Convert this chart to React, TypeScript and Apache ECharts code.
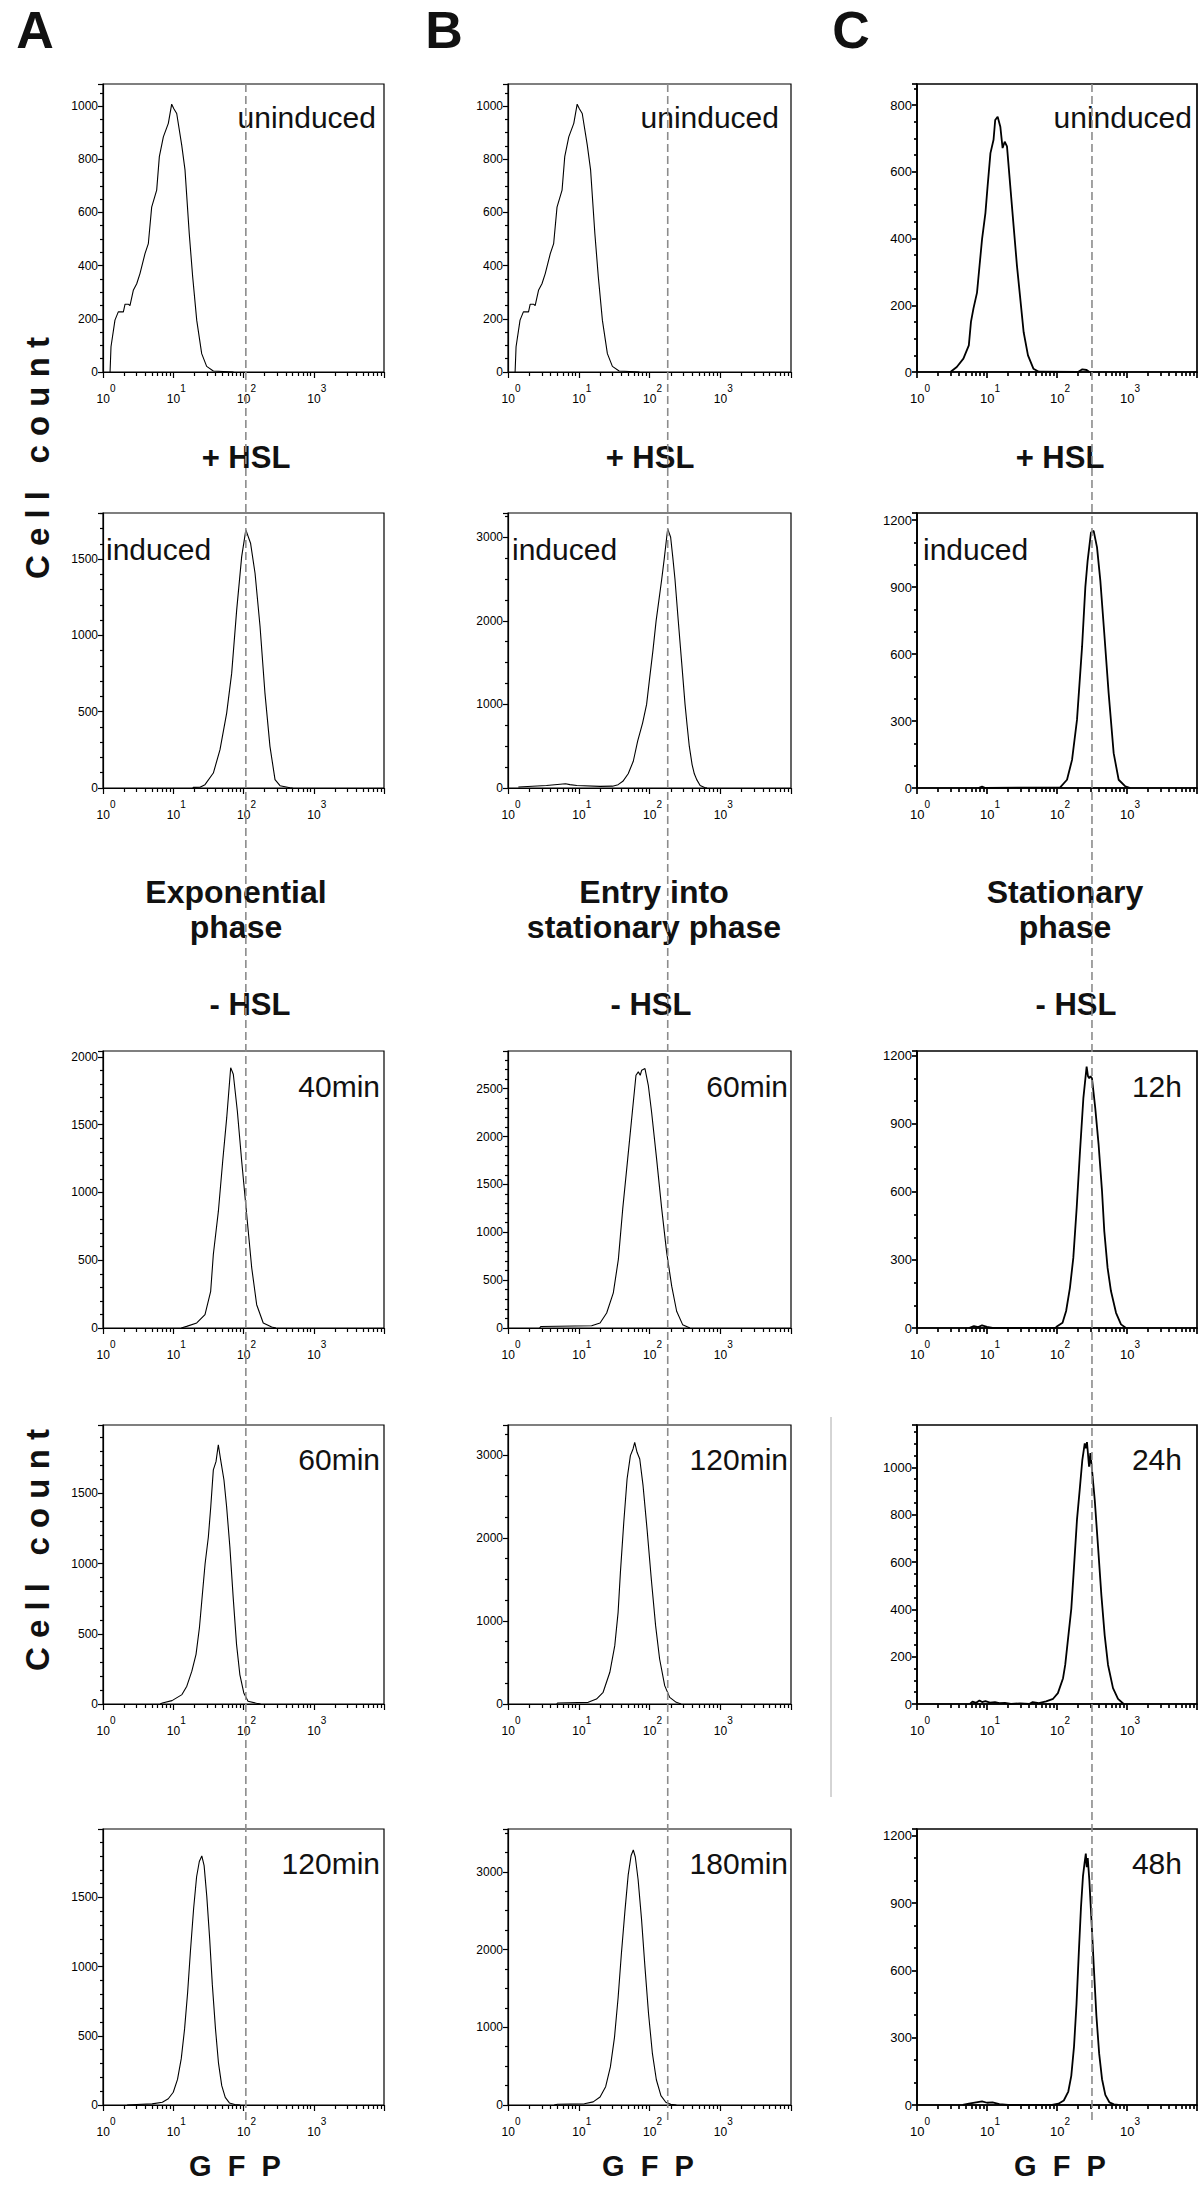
import React, { useEffect, useRef } from "react";
import * as echarts from "echarts";

const FONT = '"Liberation Sans", Arial, Helvetica, sans-serif';

// ---------- histogram data: [GFP fluorescence, cell count] ----------
const uninducedAB = [[1.26,0],[1.3,95],[1.48,195],[1.65,226],[1.95,226],[2.06,255],[2.29,255],[2.42,250],[2.7,307],[3.02,332],[3.36,370],[3.96,445],[4.42,483],[4.93,620],[5.81,684],[6.34,810],[7.23,884],[8.51,935],[9.5,1007],[10.2,990],[11.2,972],[13.2,853],[14.7,760],[16.9,520],[18.9,358],[21.6,194],[25.4,69],[29.9,21],[37.2,4],[72,0]];
const uninducedC = [[3.0,0],[3.7,15],[4.6,40],[5.5,80],[5.9,150],[6.4,190],[7.2,238],[7.9,328],[8.5,398],[9.5,477],[10.2,557],[11.2,656],[12.4,696],[13.1,755],[14.2,765],[15.5,735],[16.7,671],[17.9,690],[19.3,676],[21.5,557],[24,437],[26.8,318],[29.9,219],[33.4,119],[38.5,50],[46,10],[55,1],[200,0],[230,8],[265,6],[290,0]];
const inducedA = [[19,0],[19.3,4],[24,5],[28.3,22],[37.2,98],[46.3,251],[57.6,491],[67.9,753],[80,1168],[94.2,1517],[108,1692],[126,1605],[146,1408],[172,1059],[202,622],[238,273],[281,55],[331,15],[459,2],[500,0]];
const inducedB = [[1.4,12],[3.5,30],[6.5,50],[7.5,40],[9.4,30],[20,20],[30,22],[36,40],[42,80],[50,170],[59,320],[68,560],[80,780],[91,1000],[100,1300],[112,1650],[124,2000],[136,2250],[149,2500],[162,2750],[175,3000],[181,3100],[190,3050],[199,3000],[214,2750],[229,2500],[255,2000],[285,1500],[318,1000],[340,750],[365,500],[400,280],[430,170],[465,100],[520,30],[600,5],[650,0]];
const inducedC = [[7.5,0],[8.5,6],[9.5,0],[111,3],[139,37],[164,126],[193,305],[228,632],[254,900],[274,1019],[306,1145],[334,1152],[373,1078],[416,929],[474,691],[547,424],[645,156],[760,37],[946,7],[1116,0]];
const exp40 = [[13,0],[15.5,12],[21.6,37],[28.3,99],[34.1,271],[37.2,542],[43.9,862],[50.6,1232],[57.7,1552],[65.7,1921],[71.6,1872],[81.7,1601],[94.2,1232],[111,837],[131,443],[154,172],[191,37],[252,7],[290,0]];
const entry60 = [[2.8,0],[2.9,15],[15.2,24],[20,52],[24.8,157],[30.8,367],[36.3,717],[41.8,1241],[49.2,1766],[57.2,2256],[64.4,2640],[69.5,2675],[74,2640],[77.6,2693],[86.3,2710],[96.2,2535],[107,2256],[126,1766],[149,1241],[175,787],[206,437],[242,175],[294,35],[373,0]];
const stat12 = [[5.5,0],[6.5,8],[7.5,4],[8.5,12],[10,5],[12,0],[95,0],[102,9],[120,23],[135,75],[153,177],[171,309],[191,529],[213,778],[238,1013],[265,1152],[277,1110],[289,1101],[300,1110],[316,1101],[352,969],[393,808],[440,602],[474,426],[528,265],[590,163],[697,67],[821,16],[968,0]];
const exp60 = [[6.5,0],[7,7],[9.6,24],[13.3,67],[15.6,127],[18.4,234],[21.1,354],[23.6,545],[25.5,736],[28.4,999],[31.6,1190],[34.2,1405],[37.2,1668],[40.6,1727],[43.8,1847],[47.3,1739],[52.7,1596],[57.5,1405],[64,1118],[71.3,760],[79.6,425],[88.7,210],[101,79],[116,19],[153,5],[175,0]];
const entry120 = [[4.9,0],[5,12],[13.6,20],[17.8,60],[22.1,141],[27.5,382],[32.3,703],[36,1104],[38.8,1586],[43.3,2189],[48.2,2711],[53.7,2992],[58.5,3072],[61.8,3153],[66.7,3032],[72.8,2952],[81.1,2630],[92.3,2108],[106,1506],[122,944],[139,542],[164,221],[193,80],[239,20],[280,0]];
const stat24 = [[5.7,0],[6.2,10],[7,5],[7.8,15],[8.5,8],[9.5,12],[11,6],[13,8],[15,4],[18,5],[22,0],[30,3],[40,0],[45,8],[55,4],[70,11],[88,22],[103,46],[122,109],[131,165],[144,277],[160,402],[173,556],[193,779],[211,905],[230,1031],[249,1101],[258,1080],[268,1107],[287,1003],[300,1060],[310,1017],[346,863],[385,668],[431,458],[480,290],[536,165],[631,67],[744,22],[897,0]];
const exp120 = [[2.2,0],[3,4],[5,8],[7,20],[8.5,45],[10,92],[11.5,185],[13,335],[14.5,550],[16,810],[17.5,1100],[19.5,1420],[21.5,1650],[23.5,1760],[25.5,1800],[27.5,1730],[30,1510],[33,1200],[36,870],[40,545],[44,305],[49,140],[55,55],[63,15],[75,3],[90,0]];
const entry180 = [[4.5,0],[5,10],[12,15],[16,40],[20,102],[24,235],[28,490],[32,870],[36,1380],[40,1940],[45,2500],[50,2960],[55,3210],[59,3280],[63,3190],[69,2900],[77,2400],[86,1790],[97,1170],[110,660],[125,325],[145,120],[170,35],[200,8],[240,0]];
const stat48 = [[4.5,0],[5.5,6],[7,12],[8.5,16],[10,10],[12,12],[15,4],[20,0],[85,0],[105,6],[125,20],[145,60],[160,130],[175,260],[190,450],[205,680],[220,880],[235,1020],[248,1080],[258,1120],[266,1060],[275,1100],[290,1000],[310,830],[335,620],[365,400],[400,230],[440,115],[490,45],[560,12],[650,3],[750,0]];

// panels in reading order (rows of A, B, C)
const histograms = [uninducedAB, uninducedAB, uninducedC, inducedA, inducedB, inducedC, exp40, entry60, stat12, exp60, entry120, stat24, exp120, entry180, stat48];
const panelLabels = ["uninduced", "uninduced", "uninduced", "induced", "induced", "induced", "40min", "60min", "12h", "60min", "120min", "24h", "120min", "180min", "48h"];
const yMaxes = [1083, 1083, 863, 1803, 3290, 1232, 2044, 2893, 1221, 1988, 3361, 1179, 1995, 3550, 1230];
const yIntervals = [200, 200, 200, 500, 1000, 300, 500, 500, 300, 500, 1000, 200, 500, 1000, 300];
const yMinorSplits = [4, 4, 4, 5, 4, 3, 5, 5, 3, 5, 4, 4, 5, 4, 3];
const xMin = 1;
const xMax = 10000;
const cutoffs = [108, 181, 316]; // dashed reference (GFP) per column

const columnLetters = ["A", "B", "C"];
const columnHeadings = ["Exponential\nphase", "Entry into\nstationary phase", "Stationary\nphase"];
const plusLabel = "+ HSL";
const minusLabel = "- HSL";
const yTitle = "C e l l   c o u n t";
const xTitle = "G  F  P";

// ---------- layout ----------
const colLeft = [103, 508, 917];
const colWidth = [281, 283, 281];
const rowTop = [84, 513, 1051, 1425, 1829];
const rowHeight = [288, 275, 277, 279, 276];

export default function App() {
  const ref = useRef<HTMLDivElement>(null);

  useEffect(() => {
    const chart = echarts.init(ref.current!, null, { renderer: "svg" });
    const grids: any[] = [];
    const xAxes: any[] = [];
    const yAxes: any[] = [];
    const series: any[] = [];

    for (let i = 0; i < 15; i++) {
      const r = Math.floor(i / 3);
      const c = i % 3;
      const isC = c === 2;
      const lw = isC ? 1.7 : 1.2;
      const iv = yIntervals[i];
      const lineStyle = { color: "#000", width: lw };
      grids.push({
        left: colLeft[c],
        top: rowTop[r],
        width: colWidth[c],
        height: rowHeight[r],
        show: true,
        borderColor: "#000",
        borderWidth: lw,
        backgroundColor: "transparent",
      });
      xAxes.push({
        type: "log",
        logBase: 10,
        min: xMin,
        max: xMax,
        gridIndex: i,
        axisLine: { show: true, onZero: false, lineStyle },
        axisTick: { show: true, length: 6, lineStyle },
        minorTick: { show: true, splitNumber: 9, length: 4, lineStyle: { color: "#000", width: lw } },
        splitLine: { show: false },
        minorSplitLine: { show: false },
        axisLabel: {
          margin: 11,
          formatter: (v: number) => {
            const e = Math.round(Math.log10(v));
            if (e >= 4) return "";
            return "{a|10}{b|" + e + "}";
          },
          rich: {
            a: { fontSize: isC ? 13 : 12, lineHeight: 22, verticalAlign: "bottom", fontFamily: FONT, color: "#000", padding: [0, 0, 0, 6] },
            b: { fontSize: 10, lineHeight: 11, verticalAlign: "top", fontFamily: FONT, color: "#000" },
          },
        },
      });
      yAxes.push({
        type: "value",
        min: 0,
        max: yMaxes[i],
        interval: iv,
        gridIndex: i,
        axisLine: { show: true, lineStyle },
        axisTick: { show: true, length: 5, lineStyle },
        minorTick: { show: true, splitNumber: yMinorSplits[i], length: 3, lineStyle: { color: "#000", width: lw } },
        splitLine: { show: false },
        axisLabel: {
          margin: 5,
          fontSize: isC ? 13 : 12,
          fontFamily: FONT,
          color: "#000",
          formatter: (v: number) => (Math.abs(v % iv) < 1e-6 ? String(v) : ""),
        },
      });
      series.push({
        type: "line",
        xAxisIndex: i,
        yAxisIndex: i,
        data: histograms[i],
        showSymbol: false,
        symbol: "none",
        silent: true,
        lineStyle: { color: "#000", width: isC ? 1.8 : 1.1 },
      });
    }

    chart.setOption({
      animation: false,
      backgroundColor: "#fff",
      grid: grids,
      xAxis: xAxes,
      yAxis: yAxes,
      series,
    });

    const txt = (text: string, x: number, y: number, size: number, bold: boolean, align: string, extra: any = {}, vAlign = "middle") => ({
      type: "text",
      x,
      y,
      z: 20,
      ...extra,
      style: {
        text,
        fontSize: size,
        fontWeight: bold ? "bold" : "normal",
        fontFamily: FONT,
        fill: "#111",
        align,
        verticalAlign: vAlign,
      },
    });

    const g: any[] = [];
    // column letters
    const letterX = [35, 444, 851];
    columnLetters.forEach((t, c) => g.push(txt(t, letterX[c], 4, 52, true, "center", {}, "top")));
    // + HSL
    const plusX = [246, 650, 1060];
    plusX.forEach((x) => g.push(txt(plusLabel, x, 457, 31, true, "center")));
    // headings
    const headX = [236, 654, 1065];
    columnHeadings.forEach((t, c) =>
      g.push({
        type: "text",
        x: headX[c],
        y: 909,
        z: 20,
        style: { text: t, fontSize: 32, fontWeight: "bold", fontFamily: FONT, fill: "#111", align: "center", verticalAlign: "middle", lineHeight: 35 },
      })
    );
    // - HSL
    const minusX = [250, 651, 1076];
    minusX.forEach((x) => g.push(txt(minusLabel, x, 1004, 31, true, "center")));
    // y titles
    [458, 1550].forEach((y) => g.push(txt(yTitle, 37, y, 33, true, "center", { rotation: Math.PI / 2 })));
    // x titles
    const gfpX = [235, 648, 1060];
    gfpX.forEach((x) => g.push(txt(xTitle, x, 2166, 29, true, "center")));

    // panel labels
    const labelOffsetY = [33, 36, 35, 34, 34];
    for (let i = 0; i < 15; i++) {
      const r = Math.floor(i / 3);
      const c = i % 3;
      const y = rowTop[r] + labelOffsetY[r];
      if (r === 1) {
        const lx = [106, 512, 923][c];
        g.push(txt(panelLabels[i], lx, y, 30, false, "left"));
      } else {
        const rx = r === 0 ? [376, 779, 1192][c] : [380, 788, 1182][c];
        g.push(txt(panelLabels[i], rx, y, 30, false, "right"));
      }
    }

    // scan artefact line in column C
    g.push({ type: "line", z: 5, shape: { x1: 831, y1: 1417, x2: 831, y2: 1797 }, style: { stroke: "#aaa", lineWidth: 1 } });

    // dashed reference lines through each column, placed via the axis scale
    for (let c = 0; c < 3; c++) {
      const px = chart.convertToPixel({ xAxisIndex: c }, cutoffs[c]) as number;
      g.push({
        type: "line",
        z: 30,
        shape: { x1: px, y1: rowTop[0], x2: px, y2: 2120 },
        style: { stroke: "#8c8c8c", lineWidth: 1.6, lineDash: [8, 4] },
      });
    }

    chart.setOption({ graphic: g });
    return () => chart.dispose();
  }, []);

  return (
    <div
      ref={ref}
      style={{ position: "absolute", left: 0, top: 0, width: 1200, height: 2201, background: "#fff" }}
    />
  );
}
